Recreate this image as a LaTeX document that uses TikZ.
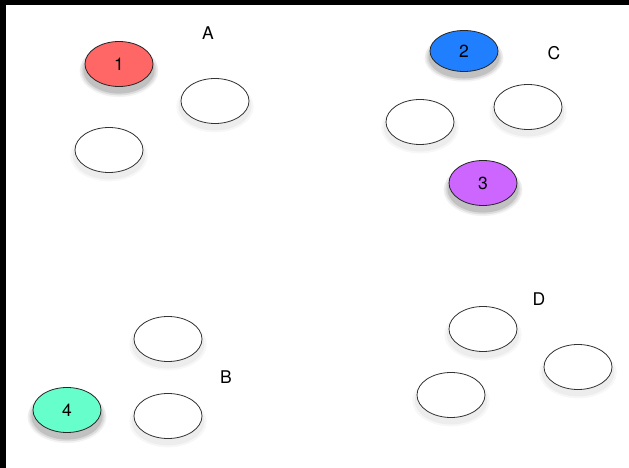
\documentclass[tikz,border=0pt]{standalone}
\usepackage{fontspec}
\setmainfont{TeX Gyre Heros}
\usetikzlibrary{shapes.geometric,shadows}
\definecolor{cRed}{HTML}{FF6666}
\definecolor{cBlue}{HTML}{1F7FFF}
\definecolor{cPurple}{HTML}{CC66FF}
\definecolor{cGreen}{HTML}{66FFCC}

\begin{document}
\begin{tikzpicture}[
    x=1pt, y=1pt,
    font=\fontsize{17.5}{20}\selectfont,
    softshadow/.style={
      general shadow={shadow xshift=0pt, shadow yshift=-#1, shadow scale=1.16, opacity=0.05, fill=black},
      general shadow={shadow xshift=0pt, shadow yshift=-#1, shadow scale=1.10, opacity=0.06, fill=black},
      general shadow={shadow xshift=0pt, shadow yshift=-#1, shadow scale=1.04, opacity=0.08, fill=black}},
    oval/.style={ellipse, draw=black!80, line width=0.8pt, fill=white, minimum width=68pt, minimum height=45pt, inner sep=0pt,
      general shadow={shadow xshift=0pt, shadow yshift=-5pt, shadow scale=1.14, opacity=0.03, fill=black},
      general shadow={shadow xshift=0pt, shadow yshift=-5pt, shadow scale=1.07, opacity=0.04, fill=black}},
    marked/.style={oval, draw=black!85, softshadow=6pt},
    grp/.style={inner sep=0pt}
]
% frame
\fill[black] (0,0) rectangle (629,468);
\fill[white] (6,0) rectangle (629,463);
\useasboundingbox (0,0) rectangle (629,468);

% group A
\node[grp] (labA) at (208,435) {A};
\node[marked, fill=cRed] (n1) at (119,404) {1};
\node[oval] (a1) at (215,367) {};
\node[oval] (a2) at (109,318) {};

% group C
\node[grp] (labC) at (554,415) {C};
\node[marked, fill=cBlue, minimum height=41pt] (n2) at (464,417) {2};
\node[oval] (c1) at (528,361) {};
\node[oval] (c2) at (420,346) {};
\node[marked, fill=cPurple] (n3) at (483,285) {3};

% group B
\node[grp] (labB) at (226,91) {B};
\node[oval] (b1) at (168,129) {};
\node[oval] (b2) at (168,52) {};
\node[marked, fill=cGreen] (n4) at (67,58) {4};

% group D
\node[grp] (labD) at (539,169) {D};
\node[oval] (d1) at (483,139) {};
\node[oval] (d2) at (578,101) {};
\node[oval] (d3) at (451,73) {};
\end{tikzpicture}
\end{document}
